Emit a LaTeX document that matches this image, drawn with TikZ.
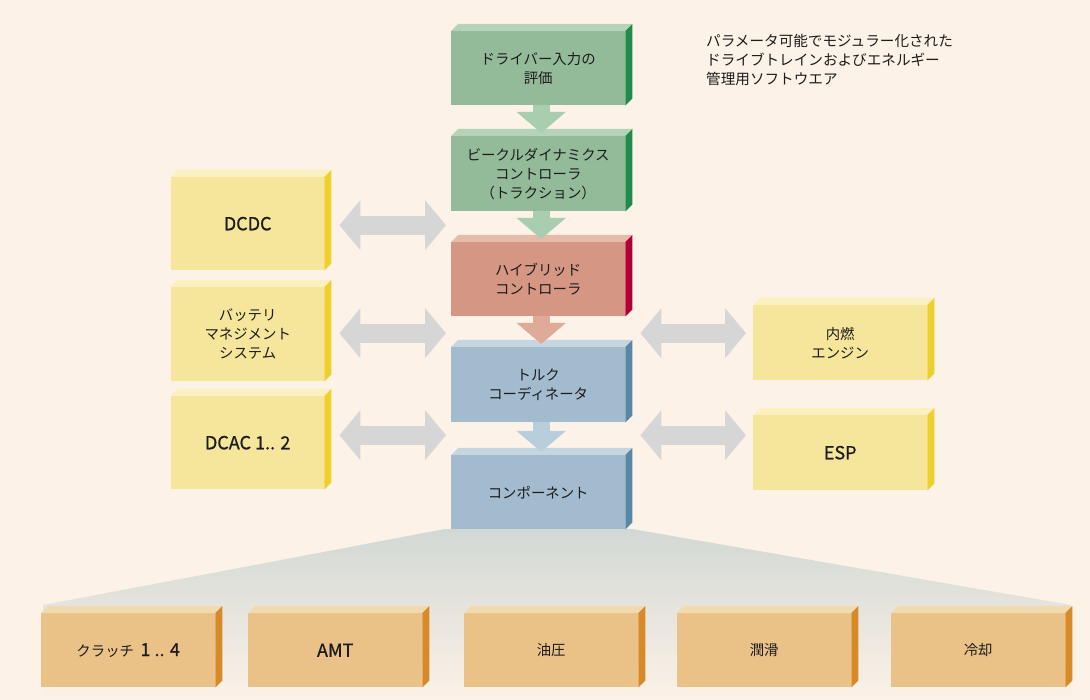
\documentclass[tikz,border=0pt]{standalone}
\usepackage{fontspec}
\setmainfont{Noto Sans CJK JP}
\newfontfamily\latfam{Noto Sans CJK JP}[FakeBold=0.7]
\usetikzlibrary{arrows.meta,calc}
\definecolor{bg}{HTML}{FCF2E7}
\definecolor{fan}{HTML}{D2D8D4}
\definecolor{txt}{HTML}{1C1C1C}
\definecolor{gf}{HTML}{93BB9A}\definecolor{gt}{HTML}{B5D3B8}\definecolor{gs}{HTML}{1F8B4C}\definecolor{ga}{HTML}{A8CDAF}
\definecolor{rf}{HTML}{D59783}\definecolor{rt}{HTML}{E6BBAA}\definecolor{rs}{HTML}{B10038}\definecolor{ra}{HTML}{DFAA97}
\definecolor{bf}{HTML}{A3BBCE}\definecolor{bt}{HTML}{C5D6E1}\definecolor{bs}{HTML}{5B87A6}\definecolor{ba}{HTML}{B9CEDD}
\definecolor{yf}{HTML}{F6E69B}\definecolor{yt}{HTML}{FBF0BF}\definecolor{ys}{HTML}{EDD02B}
\definecolor{of}{HTML}{EAC288}\definecolor{ot}{HTML}{F2DAB0}\definecolor{os}{HTML}{D88A28}
\definecolor{ha}{HTML}{D6D6D6}
\newcommand\jpfont{\fontsize{14.4}{19}\selectfont}
\newcommand\latfont{\latfam\fontsize{18}{22}\selectfont}
% name, x0, y0, width, height, palette, text
\newcommand\cubebox[7]{%
  \node[anchor=north west, minimum width=#4pt, minimum height=#5pt, inner sep=0pt,
        fill=#6f, align=center, text=txt, font=\jpfont] (#1) at (#2,#3) {#7};
  \fill[#6t] (#1.north west) -- ++(7,-7) -- ($(#1.north east)+(7,-7)$) -- (#1.north east) -- cycle;
  \fill[#6s] (#1.north east) -- ++(7,-7) -- ($(#1.south east)+(7,-7)$) -- (#1.south east) -- cycle;
}
\begin{document}
\begin{tikzpicture}[x=1pt,y=-1pt,
  varrow/.style={line width=17pt, -{Triangle[width=48pt,length=21pt]}, shorten >=3pt},
  harrow/.style={ha, line width=19pt, {Triangle[width=49pt,length=21pt]}-{Triangle[width=49pt,length=21pt]}}]
\fill[bg] (0,0) rectangle (1090,700);
\useasboundingbox (0,0) rectangle (1090,700);
% fan
\shade[top color=fan, bottom color=bg] (445,529) -- (632,529) -- (1071,605) -- (1071,700) -- (43,700) -- (43,605) -- cycle;
% caption
\node[anchor=base west, align=left, inner sep=0pt, text=txt, font=\fontsize{14.6}{19}\selectfont] (cap) at (706,84.5)
  {パラメータ可能でモジュラー化された\\ドライブトレインおよびエネルギー\\管理用ソフトウエア};
% center column
\cubebox{drv}{451}{31}{174}{74}{g}{ドライバー入力の\\評価}
\cubebox{veh}{451}{136}{174}{75}{g}{ビークルダイナミクス\\コントローラ\\（トラクション）}
\cubebox{hyb}{451}{242}{174}{74}{r}{ハイブリッド\\コントローラ}
\cubebox{trq}{451}{347}{174}{75}{b}{トルク\\コーディネータ}
\cubebox{cmp}{451}{455}{174}{74}{b}{コンポーネント}
% left column
\cubebox{dcdc}{171}{177}{153}{93}{y}{\latfont DCDC}
\cubebox{bms}{171}{287}{153}{94}{y}{バッテリ\\マネジメント\\システム}
\cubebox{dcac}{171}{396}{153}{93}{y}{\latfont DCAC 1.. 2}
% right column
\cubebox{ice}{753}{305}{174}{75}{y}{内燃\\エンジン}
\cubebox{esp}{753}{415}{174}{75}{y}{\latfont ESP}
% bottom row
\cubebox{clu}{41}{613}{174}{74}{o}{クラッチ\ \ {\latfont 1 .. 4}}
\cubebox{amt}{248}{613}{174}{74}{o}{\latfont AMT}
\cubebox{hyd}{464}{613}{174}{74}{o}{油圧}
\cubebox{lub}{677}{613}{174}{74}{o}{潤滑}
\cubebox{col}{891}{613}{174}{74}{o}{冷却}
% vertical arrows
\draw[varrow, ga] ([xshift=3pt]drv.south) -- ([xshift=3pt]veh.north);
\draw[varrow, ga] ([xshift=3pt]veh.south) -- ([xshift=3pt]hyb.north);
\draw[varrow, ra] ([xshift=3pt]hyb.south) -- ([xshift=3pt]trq.north);
\draw[varrow, ba] ([xshift=3pt]trq.south) -- ([xshift=3pt]cmp.north);
% horizontal double arrows
\draw[harrow] ([xshift=15pt,yshift=-1.5pt]dcdc.east) -- ([xshift=-5pt,yshift=-1.5pt]dcdc.east -| hyb.west);
\draw[harrow] ([xshift=15pt,yshift=1pt]bms.east) -- ([xshift=-5pt,yshift=1pt]bms.east -| trq.west);
\draw[harrow] ([xshift=15pt,yshift=7.5pt]dcac.east) -- ([xshift=-5pt,yshift=7.5pt]dcac.east -| cmp.west);
\draw[harrow] ([xshift=15pt,yshift=9.5pt]ice.west -| trq.east) -- ([xshift=-7pt,yshift=9.5pt]ice.west);
\draw[harrow] ([xshift=15pt,yshift=17.5pt]esp.west -| cmp.east) -- ([xshift=-7pt,yshift=17.5pt]esp.west);
\end{tikzpicture}
\end{document}
